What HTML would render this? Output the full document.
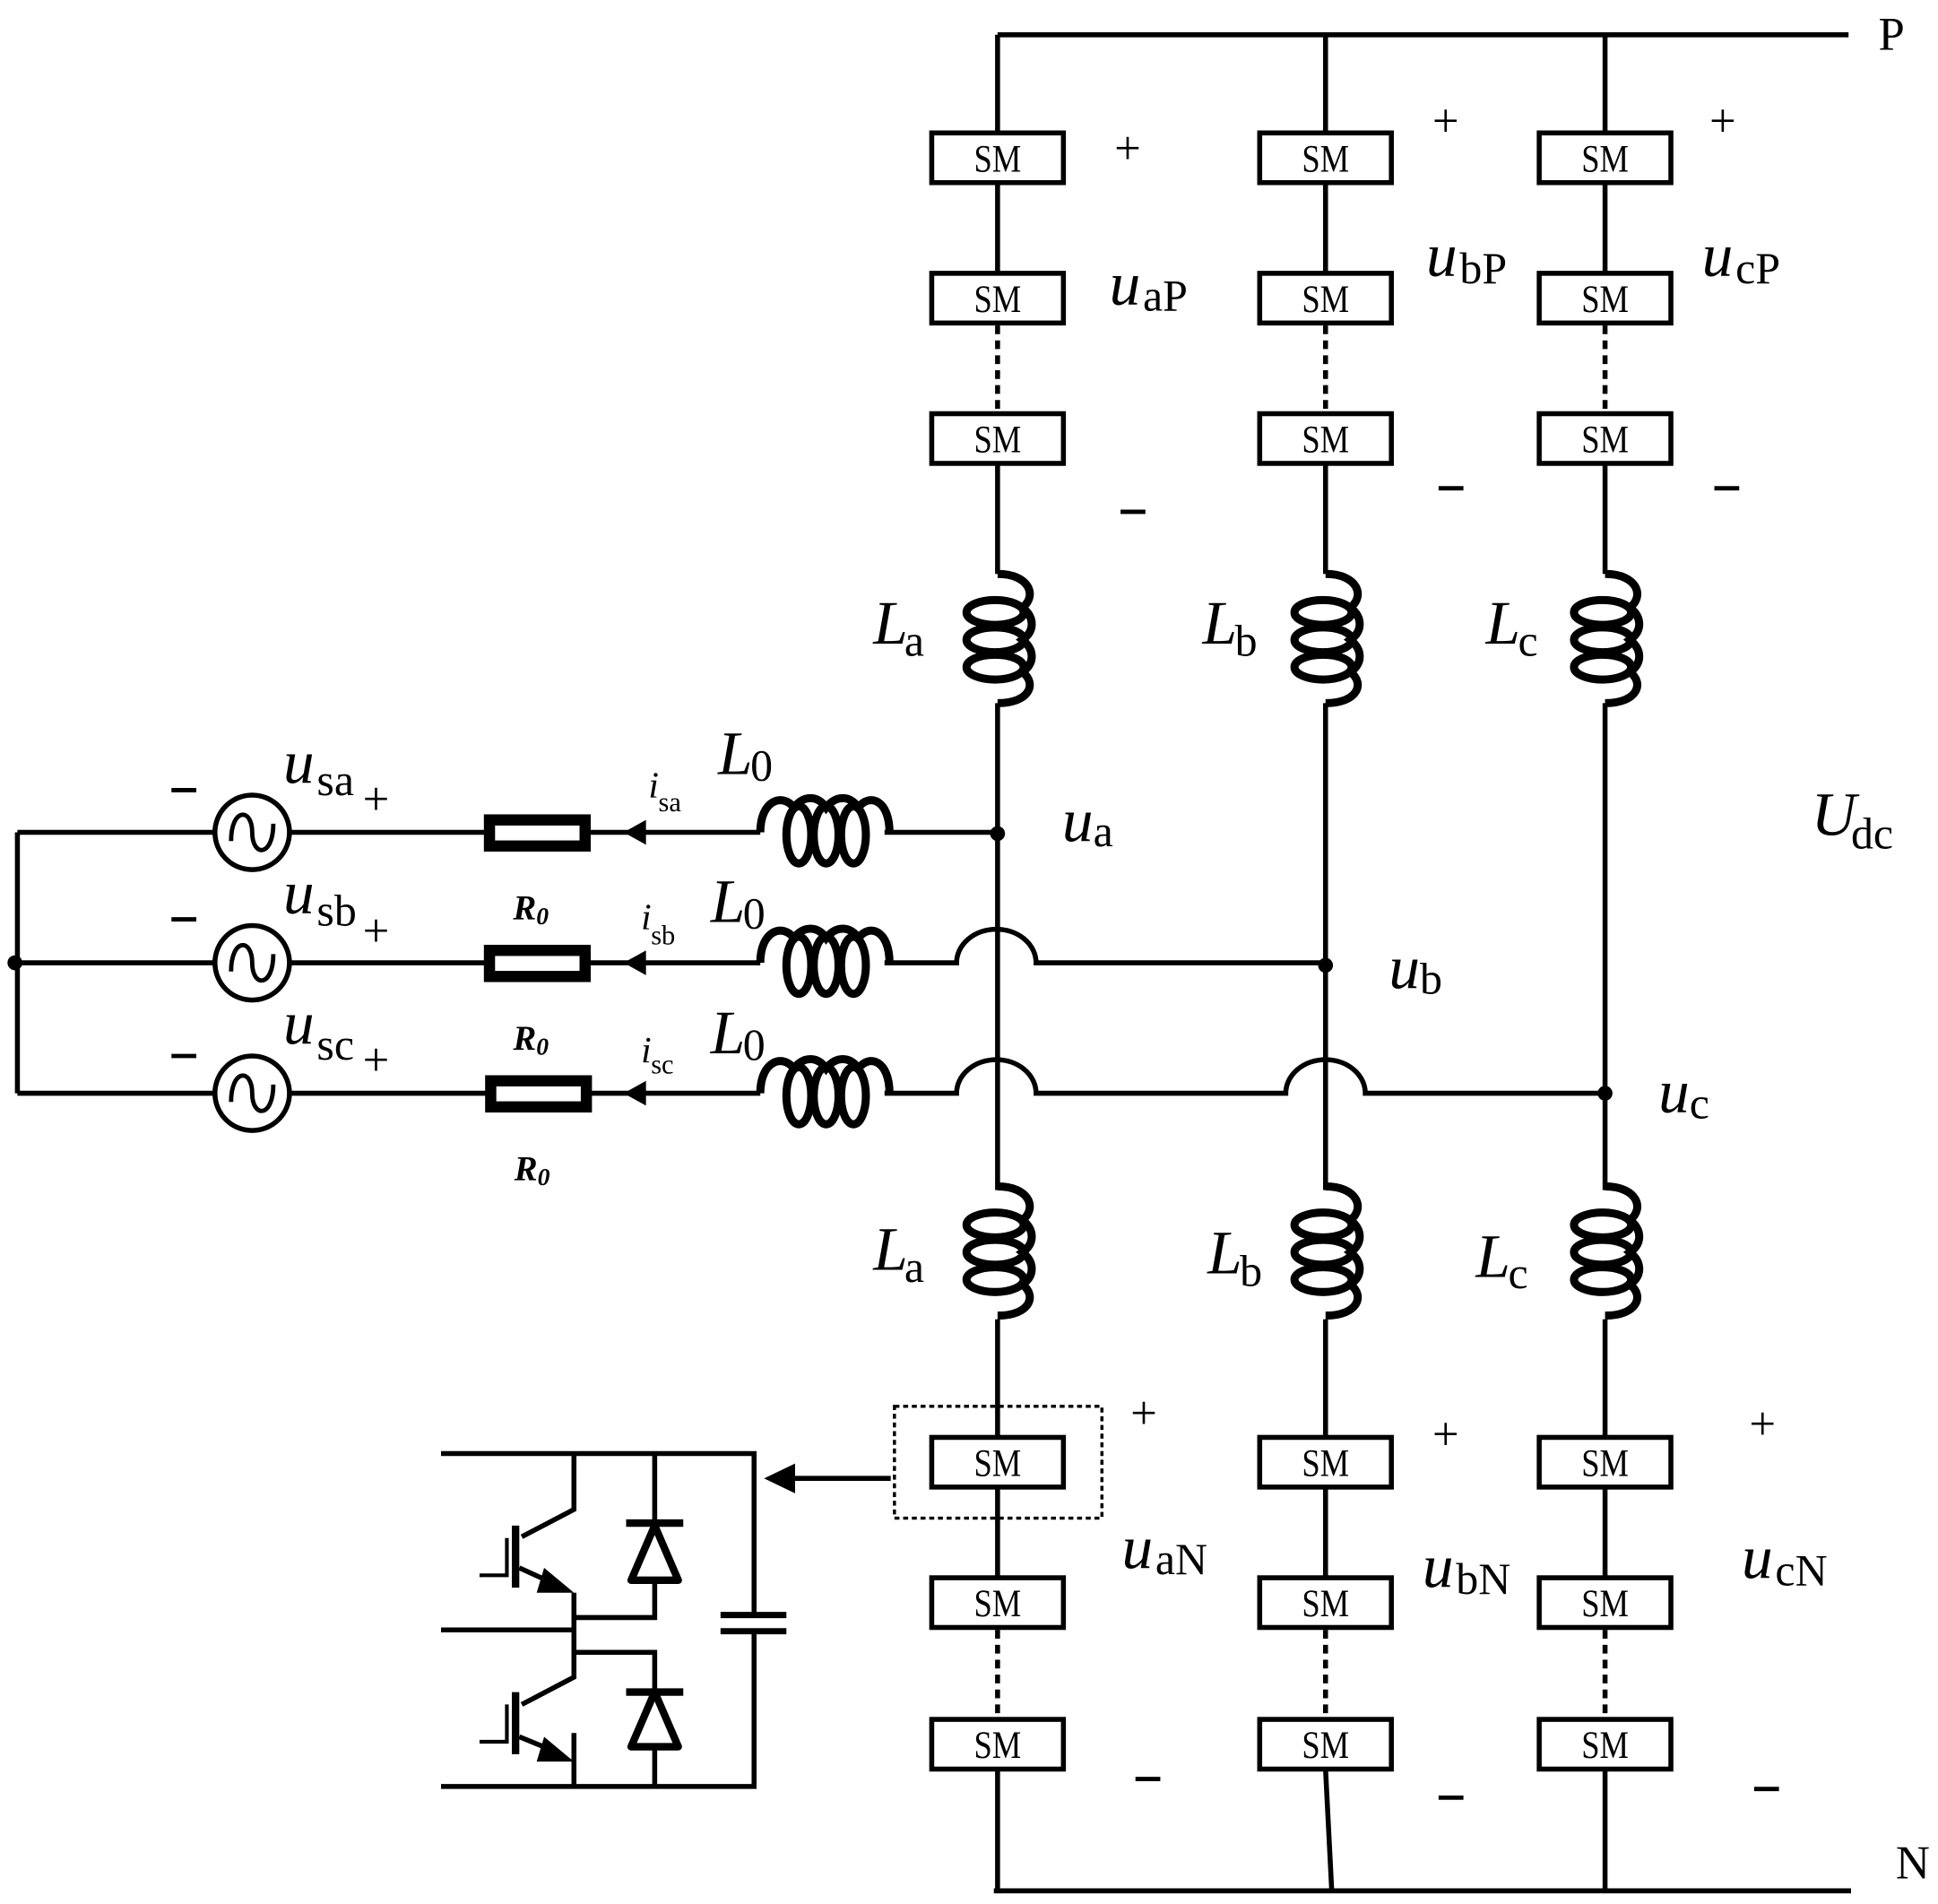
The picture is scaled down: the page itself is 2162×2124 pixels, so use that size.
<!DOCTYPE html>
<html><head><meta charset="utf-8"><style>html,body{margin:0;padding:0;background:#fff}svg{display:block}</style></head>
<body>
<svg xmlns="http://www.w3.org/2000/svg" width="2162" height="2124" viewBox="0 0 1560 1532.6">
<defs>
<g id="coil" fill="none" stroke="#000" stroke-width="6.5">
<path d="M0 0 C26 0 32 18 20 27 C30 35 30 46 20 53 C30 61 30 72 20 79 C32 88 26 104 0 104"/>
<ellipse cx="-2" cy="31" rx="23" ry="10"/>
<ellipse cx="-2" cy="53" rx="23" ry="10"/>
<ellipse cx="-2" cy="75" rx="23" ry="10"/>
</g>
<g id="sm">
<rect x="-53" y="-20" width="106" height="40" fill="#fff" stroke="#000" stroke-width="4"/>
<text x="0" y="11" font-family="Liberation Serif" font-size="31" text-anchor="middle" transform="scale(0.85,1)">SM</text>
</g>
</defs>
<g stroke="#000" stroke-width="4" fill="none">
<path d="M803 28 H1488 M1067 28 V107 M1292 28 V107 M803 28 V107"/>
<path d="M800 1522 H1490"/>
<path d="M803 147 V220 M803 373 V462 M803 566 V958 M803 1062 V1157 M803 1197 V1270 M803 1424 V1522"/>
<path d="M1067 147 V220 M1067 373 V462 M1067 566 V958 M1067 1062 V1157 M1067 1197 V1270 M1067 1424 L1072 1522"/>
<path d="M1292 147 V220 M1292 373 V462 M1292 566 V958 M1292 1062 V1157 M1292 1197 V1270 M1292 1424 V1522"/>
<path d="M803 262 V333 M1067 262 V333 M1292 262 V333 M803 1312 V1384 M1067 1312 V1384 M1292 1312 V1384" stroke-dasharray="7 5"/>
<path d="M14 670 V880 M14 670 H173 M233 670 H392 M472 670 H612 M712 670 H803"/>
<path d="M14 775 H173 M233 775 H392 M472 775 H612 M712 775 H770 A32 27 0 0 1 834 775 H1067"/>
<path d="M14 880 H173 M233 880 H392 M472 880 H612 M712 880 H770 A32 27 0 0 1 834 880 H1035 A32 27 0 0 1 1099 880 H1292"/>
<circle cx="203" cy="670" r="30"/><circle cx="203" cy="775" r="30"/><circle cx="203" cy="880" r="30"/>
<path d="M186 677 C186 650 203 650 203 670 C203 690 220 690 220 663" stroke-width="3.5"/>
<path d="M186 782 C186 755 203 755 203 775 C203 795 220 795 220 768" stroke-width="3.5"/>
<path d="M186 887 C186 860 203 860 203 880 C203 900 220 900 220 873" stroke-width="3.5"/>
<rect x="394" y="660" width="77" height="21" stroke-width="9" fill="#fff"/>
<rect x="394" y="765" width="77" height="21" stroke-width="9" fill="#fff"/>
<rect x="395" y="870" width="77" height="21" stroke-width="9" fill="#fff"/>
<rect x="720" y="1132" width="167" height="90" stroke-width="2.5" stroke-dasharray="4 3"/>
<path d="M717 1190 H640"/>
<path d="M355 1170 H607 V1300 M607 1313 V1438 H355 M355 1312 H462 M462 1170 V1215 L420 1237 M462 1438 V1395 M462 1282 V1350 L420 1372 M527 1170 V1226 M527 1272 V1302 H462 M462 1330 H527 V1362 M527 1406 V1438 M418 1262 L440 1272 M418 1398 L440 1407"/>
<path d="M580 1300 H633 M580 1313 H633" stroke-width="5"/>
<path d="M415 1228 V1278 M415 1362 V1412" stroke-width="6"/>
<path d="M408 1238 V1268 H386 M408 1372 V1402 H386" stroke-width="3"/>
<path d="M504 1226 H550 M508 1272 H546 L527 1228 Z M504 1362 H550 M508 1406 H546 L527 1362 Z" stroke-width="6" stroke-linejoin="round"/>
</g>
<g fill="#000">
<polygon points="615,1190 640,1178 640,1202"/>
<polygon points="462,1282 438,1262 432,1282"/>
<polygon points="462,1418 438,1398 432,1418"/>
<polygon points="502,670 520,660 520,680"/><polygon points="502,775 520,765 520,785"/><polygon points="502,880 520,870 520,890"/>
<circle cx="803" cy="671" r="6"/><circle cx="1067" cy="777" r="6"/><circle cx="1292" cy="880" r="6"/><circle cx="12" cy="775" r="6"/>
</g>
<use href="#coil" x="803" y="462"/><use href="#coil" x="1067" y="462"/><use href="#coil" x="1292" y="462"/>
<use href="#coil" x="803" y="955"/><use href="#coil" x="1067" y="955"/><use href="#coil" x="1292" y="955"/>
<use href="#coil" transform="translate(612,670) rotate(-90)"/>
<use href="#coil" transform="translate(612,775) rotate(-90)"/>
<use href="#coil" transform="translate(612,880) rotate(-90)"/>
<use href="#sm" x="803" y="127"/><use href="#sm" x="803" y="240"/><use href="#sm" x="803" y="353"/>
<use href="#sm" x="1067" y="127"/><use href="#sm" x="1067" y="240"/><use href="#sm" x="1067" y="353"/>
<use href="#sm" x="1292" y="127"/><use href="#sm" x="1292" y="240"/><use href="#sm" x="1292" y="353"/>
<use href="#sm" x="803" y="1177"/><use href="#sm" x="803" y="1290"/><use href="#sm" x="803" y="1404"/>
<use href="#sm" x="1067" y="1177"/><use href="#sm" x="1067" y="1290"/><use href="#sm" x="1067" y="1404"/>
<use href="#sm" x="1292" y="1177"/><use href="#sm" x="1292" y="1290"/><use href="#sm" x="1292" y="1404"/>
<g stroke="#000" stroke-width="3.5">
<path d="M902 412 H922 M1158 393 H1178 M1380 393 H1400 M914 1432 H934 M1158 1447 H1178 M1412 1440 H1432 M138 636 H158 M138 740 H158 M138 850 H158"/>
</g>
<g font-family="Liberation Serif" fill="#000" font-size="38">
<text x="1512" y="40">P</text><text x="1526" y="1512">N</text>
<text x="897" y="132">+</text>
<text x="1153" y="110">+</text>
<text x="1376" y="110">+</text>
<text x="910" y="1150">+</text>
<text x="1153" y="1167">+</text>
<text x="1408" y="1159">+</text>
<text x="292" y="656">+</text><text x="292" y="762">+</text><text x="292" y="866">+</text>
<g font-style="italic" font-size="50">
<text x="893" y="245">u</text><text x="1148" y="222">u</text><text x="1370" y="222">u</text>
<text x="903" y="1262">u</text><text x="1145" y="1277">u</text><text x="1402" y="1270">u</text>
<text x="855" y="677">u</text><text x="1118" y="795">u</text><text x="1335" y="895">u</text>
<text x="228" y="630">u</text><text x="228" y="735">u</text><text x="228" y="840">u</text>
<text x="1458" y="672">U</text>
<text x="703" y="518">L</text><text x="968" y="518">L</text><text x="1196" y="518">L</text>
<text x="703" y="1022">L</text><text x="972" y="1025">L</text><text x="1188" y="1028">L</text>
<text x="578" y="623">L</text><text x="572" y="742">L</text><text x="572" y="848">L</text>
<text x="522" y="642" font-size="30">i</text><text x="516" y="748" font-size="30">i</text><text x="516" y="855" font-size="30">i</text>
</g>
<g font-size="36">
<text x="920" y="250">aP</text><text x="1175" y="228">bP</text><text x="1397" y="228">cP</text>
<text x="930" y="1267">aN</text><text x="1172" y="1283">bN</text><text x="1429" y="1276">cN</text>
<text x="880" y="681">a</text><text x="1143" y="800">b</text><text x="1360" y="900">c</text>
<text x="255" y="640">sa</text><text x="255" y="745">sb</text><text x="255" y="853">sc</text>
<text x="1490" y="683">dc</text>
<text x="728" y="528">a</text><text x="994" y="528">b</text><text x="1222" y="528">c</text>
<text x="728" y="1032">a</text><text x="998" y="1035">b</text><text x="1214" y="1037">c</text>
<text x="604" y="628">0</text><text x="598" y="747">0</text><text x="598" y="853">0</text>
</g>
<g font-size="22"><text x="530" y="653">sa</text><text x="524" y="760">sb</text><text x="524" y="864">sc</text></g>
<g font-size="28" font-weight="bold" font-style="italic"><text x="413" y="740">R<tspan font-size="20" dy="4">0</tspan></text><text x="413" y="845">R<tspan font-size="20" dy="4">0</tspan></text><text x="414" y="950">R<tspan font-size="20" dy="4">0</tspan></text></g>
</g>
</svg>
</body></html>
